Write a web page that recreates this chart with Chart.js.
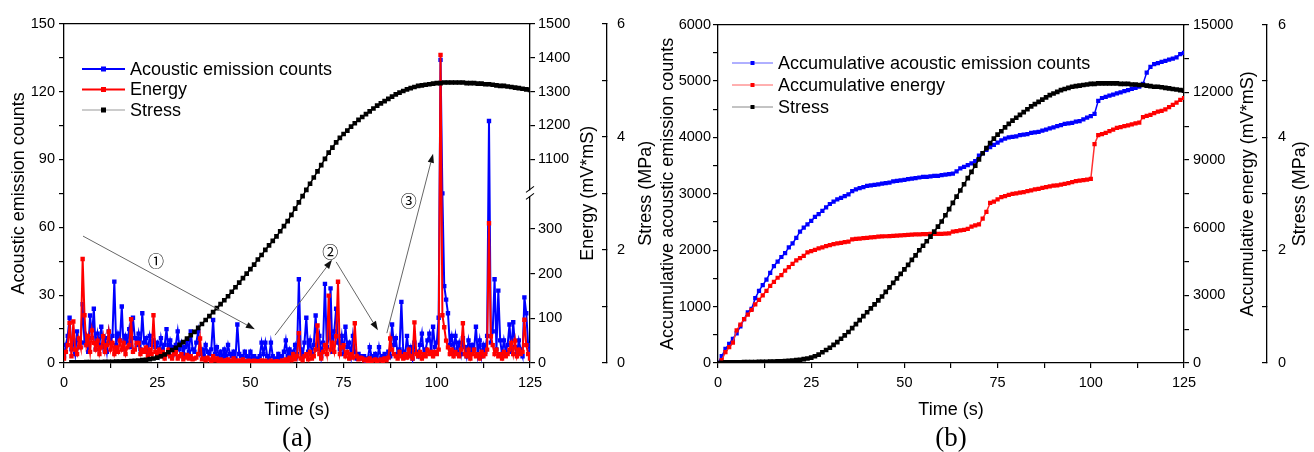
<!DOCTYPE html>
<html><head><meta charset="utf-8">
<script src="https://cdn.jsdelivr.net/npm/chart.js@4.4.1/dist/chart.umd.min.js"></script>
<style>
html,body{margin:0;padding:0;background:#fff;}
#wrap{position:relative;width:1314px;height:452px;overflow:hidden;background:#fff;}
canvas{position:absolute;top:0;}
#ca{left:0;width:657px;height:452px;}
#cb{left:657px;width:657px;height:452px;}
</style></head><body>
<div id="wrap"><canvas id="ca" width="657" height="452"></canvas><canvas id="cb" width="657" height="452"></canvas></div>
<script>
// ---------------- DATA ----------------
// Panel (a): sampled every 0.5 s from 0 to 125 s
const aeCounts = [
 3, 8, 12, 20, 6, 10, 4, 14, 7, 9,
 26, 9, 12, 5, 21, 11, 24, 6, 13, 8,
 16, 7, 11, 5, 14, 9, 12, 36, 8, 13,
 10, 25, 6, 12, 9, 15, 7, 20, 11, 8,
 13, 6, 22, 9, 11, 5, 12, 8, 10, 7,
 9, 4, 11, 6, 8, 15, 5, 10, 7, 4,
 8, 14, 6, 9, 4, 7, 10, 5, 14, 6,
 5, 9, 14, 4, 6, 3, 8, 5, 4, 6,
 19, 4, 7, 3, 5, 2, 6, 3, 8, 4,
 3, 5, 2, 17, 4, 3, 2, 5, 3, 2,
 5, 2, 3, 1, 2, 3, 9, 4, 9, 3,
 2, 9, 3, 1, 2, 4, 2, 3, 5, 10,
 3, 6, 2, 5, 8, 4, 37, 6, 3, 9,
 20, 5, 10, 4, 8, 21, 6, 12, 3, 9,
 35, 7, 11, 33, 5, 14, 24, 9, 6, 12,
 4, 16, 7, 9, 3, 12, 5, 2, 4, 3,
 2, 3, 1, 2, 7, 3, 2, 4, 1, 7,
 2, 3, 4, 2, 5, 3, 17, 8, 11, 4,
 6, 27, 5, 3, 12, 4, 7, 2, 9, 5,
 3, 8, 13, 4, 6, 10, 13, 5, 16, 7,
 9, 20, 134, 75, 34, 28, 22, 8, 12, 6,
 12, 5, 9, 4, 11, 7, 3, 10, 5, 8,
 6, 16, 4, 10, 3, 8, 5, 12, 107, 9,
 14, 37, 6, 32, 10, 4, 10, 5, 8, 17,
 5, 18, 7, 4, 10, 6, 3, 29, 22, 8,
 5
];
const aeEnergy = [
 10, 25, 40, 90, 15, 93, 30, 20, 55, 35,
 233, 107, 40, 60, 25, 73, 45, 30, 50, 20,
 35, 60, 25, 40, 70, 30, 45, 20, 35, 25,
 50, 30, 45, 20, 35, 40, 98, 25, 30, 45,
 45, 20, 30, 25, 35, 15, 30, 20, 107, 25,
 20, 30, 15, 25, 10, 20, 30, 15, 10, 20,
 25, 10, 15, 20, 8, 12, 18, 10, 15, 8,
 10, 12, 20, 55, 8, 10, 6, 12, 8, 5,
 15, 6, 10, 5, 8, 4, 6, 5, 8, 4,
 5, 10, 4, 6, 3, 5, 8, 4, 3, 5,
 4, 3, 5, 2, 4, 3, 6, 2, 5, 3,
 2, 5, 3, 2, 4, 3, 2, 6, 4, 8,
 5, 12, 6, 20, 8, 15, 67, 10, 6, 15,
 20, 8, 25, 10, 15, 30, 84, 20, 10, 25,
 40, 20, 151, 30, 45, 25, 60, 182, 20, 35,
 40, 15, 25, 10, 20, 12, 89, 15, 8, 12,
 10, 6, 8, 4, 10, 5, 6, 8, 4, 6,
 8, 5, 10, 6, 12, 55, 30, 20, 15, 10,
 25, 15, 10, 20, 12, 30, 15, 10, 91, 20,
 15, 25, 10, 20, 15, 30, 20, 25, 15, 25,
 20, 30, 1408, 107, 80, 50, 35, 20, 30, 15,
 25, 20, 15, 30, 89, 20, 15, 30, 10, 20,
 30, 15, 20, 10, 25, 15, 20, 30, 313, 60,
 40, 20, 30, 15, 20, 10, 25, 15, 20, 30,
 45, 20, 50, 15, 30, 20, 25, 97, 40, 20,
 10
];
// Stress, sampled every 1 s from 0 to 125 s
const stressMPa = [
 0.0, 0.005, 0.01, 0.01, 0.012, 0.013, 0.014, 0.015, 0.016, 0.017,
 0.018, 0.02, 0.021, 0.022, 0.024, 0.026, 0.028, 0.03, 0.033, 0.037,
 0.042, 0.05, 0.058, 0.068, 0.08, 0.095, 0.12, 0.15, 0.19, 0.23,
 0.27, 0.32, 0.37, 0.43, 0.49, 0.55, 0.62, 0.69, 0.76, 0.83,
 0.9, 0.97, 1.04, 1.11, 1.18, 1.26, 1.34, 1.42, 1.5, 1.58,
 1.66, 1.74, 1.83, 1.91, 2.0, 2.08, 2.16, 2.24, 2.33, 2.42,
 2.51, 2.62, 2.73, 2.84, 2.95, 3.06, 3.17, 3.28, 3.39, 3.5,
 3.61, 3.72, 3.81, 3.9, 3.98, 4.05, 4.11, 4.18, 4.24, 4.3,
 4.35, 4.4, 4.45, 4.5, 4.55, 4.59, 4.63, 4.67, 4.71, 4.75,
 4.78, 4.81, 4.84, 4.86, 4.88, 4.9, 4.91, 4.92, 4.93, 4.94,
 4.95, 4.95, 4.96, 4.96, 4.96, 4.96, 4.96, 4.96, 4.95, 4.95,
 4.95, 4.94, 4.94, 4.93, 4.93, 4.92, 4.91, 4.9, 4.9, 4.89,
 4.88, 4.87, 4.86, 4.85, 4.84, 4.83
];
// Panel (b): cumulative values, sampled every 1 s
const cumCounts = [
 0, 120, 250, 340, 430, 525, 650, 780, 900, 960,
 1150, 1280, 1380, 1480, 1600, 1720, 1800, 1880, 1950, 2050,
 2120, 2220, 2330, 2400, 2460, 2520, 2590, 2640, 2700, 2760,
 2820, 2860, 2900, 2930, 2960, 2990, 3050, 3080, 3100, 3120,
 3140, 3150, 3160, 3170, 3180, 3190, 3200, 3220, 3230, 3240,
 3250, 3260, 3270, 3280, 3290, 3300, 3300, 3310, 3320, 3320,
 3330, 3340, 3350, 3360, 3400, 3450, 3480, 3510, 3540, 3580,
 3680, 3720, 3780, 3830, 3870, 3910, 3950, 3980, 4000, 4010,
 4020, 4040, 4050, 4060, 4080, 4090, 4100, 4120, 4140, 4160,
 4180, 4200, 4220, 4240, 4250, 4260, 4280, 4290, 4320, 4350,
 4380, 4420, 4650, 4700, 4720, 4740, 4760, 4780, 4800, 4820,
 4840, 4860, 4880, 4900, 4950, 5150, 5250, 5300, 5320, 5340,
 5360, 5380, 5400, 5420, 5480, 5500
];
const cumEnergy = [
 0, 130, 480, 700, 900, 1450, 1700, 1950, 2150, 2350,
 2600, 2800, 3000, 3200, 3420, 3600, 3780, 3900, 4100, 4250,
 4400, 4550, 4650, 4750, 4900, 4960, 5020, 5080, 5130, 5180,
 5230, 5270, 5300, 5330, 5360, 5380, 5480, 5500, 5520, 5540,
 5550, 5570, 5580, 5600, 5610, 5620, 5630, 5640, 5650, 5660,
 5670, 5680, 5690, 5700, 5700, 5710, 5710, 5720, 5720, 5730,
 5730, 5740, 5750, 5830, 5850, 5880, 5900, 5950, 6050, 6100,
 6150, 6400, 6700, 7100, 7150, 7250, 7350, 7400, 7450, 7500,
 7520, 7550, 7580, 7620, 7650, 7700, 7720, 7760, 7800, 7830,
 7860, 7880, 7910, 7940, 7980, 8020, 8060, 8090, 8110, 8130,
 8160, 9700, 10100, 10150, 10200, 10280, 10350, 10420, 10460, 10500,
 10540, 10580, 10620, 10660, 10900, 10960, 11000, 11080, 11150, 11180,
 11250, 11350, 11450, 11550, 11670, 11750
];
const timeHalf = aeCounts.map((_, i) => i * 0.5);
const timeSec = stressMPa.map((_, i) => i);
const stressStartA = 2; // stress record in (a) starts at 2 s
const energyTicksA = [0, 100, 200, 300, 1100, 1200, 1300, 1400, 1500];
// annotation arrows in (a), data units [t1, counts1, t2, counts2]
const arrowsA = [[5.1, 56.1, 51.2, 14.9], [56.6, 12.3, 71.9, 45.6], [73.0, 44.7, 84.2, 14.5], [86.6, 13.2, 99.0, 92.5]];
const markA = [['\u2460', 24.7, 45.2], ['\u2461', 71.4, 49.1], ['\u2462', 92.5, 71.5]];

// ---------------- SETUP ----------------
const FONT = '"Liberation Sans", Arial, Helvetica, sans-serif';
Chart.defaults.font.family = FONT;
Chart.defaults.font.size = 14.5;
Chart.defaults.color = '#000';

const LinearBase = Chart.LinearScale || Chart.registry.getScale('linear');
class BrokenLinearScale extends LinearBase {
  static id = 'brokenLinear';
  buildTicks() {
    return (this.options.breakTicks || energyTicksA).map(v => ({ value: v }));
  }
  _frac(v) {
    const lo = this.options.breakLow, hi = this.options.breakHigh, mid = this.options.breakAt;
    if (v <= lo) return (v - this.min) / (lo - this.min) * mid;
    if (v >= hi) return mid + (v - hi) / (this.max - hi) * (1 - mid);
    return mid;
  }
  getPixelForValue(v) { return this.getPixelForDecimal(this._frac(v)); }
  getValueForPixel(p) {
    const lo = this.options.breakLow, hi = this.options.breakHigh, mid = this.options.breakAt;
    const f = this.getDecimalForPixel(p);
    return f <= mid ? this.min + f / mid * (lo - this.min) : hi + (f - mid) / (1 - mid) * (this.max - hi);
  }
}
Chart.register(BrokenLinearScale);

const gridOpt = (tl) => ({ drawOnChartArea: false, drawTicks: true, tickLength: tl, color: '#000', lineWidth: 1.2 });
const borderOpt = { display: true, color: '#000', width: 1.3 };
const lbl = (step) => (v) => (Math.abs(v / step - Math.round(v / step)) < 1e-6 ? String(v) : '');

function arrow(ctx, x1, y1, x2, y2) {
  const a = Math.atan2(y2 - y1, x2 - x1), L = 9, W = 3.2;
  const bx = x2 - L * Math.cos(a), by = y2 - L * Math.sin(a);
  ctx.strokeStyle = '#666'; ctx.lineWidth = 1;
  ctx.beginPath(); ctx.moveTo(x1, y1); ctx.lineTo(bx, by); ctx.stroke();
  ctx.fillStyle = '#111';
  ctx.beginPath(); ctx.moveTo(x2, y2);
  ctx.lineTo(bx + W * Math.sin(a), by - W * Math.cos(a));
  ctx.lineTo(bx - W * Math.sin(a), by + W * Math.cos(a));
  ctx.closePath(); ctx.fill();
}

const decor = {
  id: 'decor',
  afterDraw(chart, args, o) {
    const ctx = chart.ctx, ca = chart.chartArea;
    ctx.save();
    // right-side axis titles (read bottom to top)
    (o.rightTitles || []).forEach(rt => {
      const s = chart.scales[rt.scale];
      ctx.save();
      ctx.translate(s.left + rt.offset, (ca.top + ca.bottom) / 2);
      ctx.rotate(-Math.PI / 2);
      ctx.font = '18px ' + FONT; ctx.fillStyle = '#000';
      ctx.textAlign = 'center'; ctx.textBaseline = 'middle';
      ctx.fillText(rt.text, 0, 0);
      ctx.restore();
    });
    // axis break marks
    if (o.brk) {
      const s = chart.scales[o.brk];
      const by = s.getPixelForDecimal(s.options.breakAt), ax = s.left;
      ctx.fillStyle = '#fff'; ctx.fillRect(ax - 2, by - 3, 4, 6);
      ctx.strokeStyle = '#000'; ctx.lineWidth = 1.1;
      ctx.beginPath();
      ctx.moveTo(ax - 4, by - 1); ctx.lineTo(ax + 4, by - 7);
      ctx.moveTo(ax - 4, by + 6); ctx.lineTo(ax + 4, by);
      ctx.stroke();
    }
    // annotations
    if (o.arrows) {
      const xs = chart.scales.x, ys = chart.scales.y;
      o.arrows.forEach(a => arrow(ctx, xs.getPixelForValue(a[0]), ys.getPixelForValue(a[1]), xs.getPixelForValue(a[2]), ys.getPixelForValue(a[3])));
      ctx.font = '16px "Noto Sans CJK SC", "DejaVu Sans", sans-serif';
      ctx.fillStyle = '#000'; ctx.textAlign = 'center'; ctx.textBaseline = 'middle';
      (o.marks || []).forEach(m => ctx.fillText(m[0], xs.getPixelForValue(m[1]), ys.getPixelForValue(m[2])));
    }
    // legend
    if (o.legend) {
      const L = o.legend;
      L.items.forEach((it, i) => {
        const ds = chart.data.datasets[it.ds];
        const y = L.y + i * L.dy;
        ctx.strokeStyle = it.line; ctx.lineWidth = it.lw;
        ctx.beginPath(); ctx.moveTo(L.x, y); ctx.lineTo(L.x + L.len, y); ctx.stroke();
        ctx.fillStyle = it.sq;
        ctx.fillRect(L.x + L.len / 2 - L.sqs / 2, y - L.sqs / 2, L.sqs, L.sqs);
        ctx.font = '18px ' + FONT; ctx.fillStyle = '#000';
        ctx.textAlign = 'left'; ctx.textBaseline = 'middle';
        ctx.fillText(ds.label, L.x + L.len + L.gap, y + 1);
      });
    }
    ctx.restore();
  }
};

const xAxis = {
  type: 'linear', position: 'bottom', min: 0, max: 125,
  ticks: { stepSize: 12.5, autoSkip: false, maxRotation: 0, padding: 6, callback: lbl(25) },
  grid: gridOpt(5), border: borderOpt,
  title: { display: true, text: 'Time (s)', font: { size: 18 }, padding: { top: 0, bottom: 4 } },
  afterFit: s => { s.height = 62; }
};
const topAxis = {
  type: 'linear', position: 'top', min: 0, max: 125, display: true,
  ticks: { display: false }, grid: { display: false, drawTicks: false }, border: borderOpt,
  afterFit: s => { s.height = 0; }
};
const panelTitle = (t) => ({ display: true, text: t, position: 'bottom', fullSize: false,
  font: { family: '"Liberation Serif", "Times New Roman", serif', size: 27, weight: 'normal', lineHeight: 1.0 },
  padding: { top: 0, bottom: 0 }, color: '#000' });

// ---------------- CHART (a) ----------------
new Chart(document.getElementById('ca'), {
  type: 'line',
  data: {
    datasets: [
      { label: 'Acoustic emission counts', data: timeHalf.map((t, i) => ({ x: t, y: aeCounts[i] })), yAxisID: 'y',
        borderColor: '#0000ff', backgroundColor: '#0000ff', pointBackgroundColor: '#0000ff', borderWidth: 2,
        pointStyle: 'rect', pointRadius: 3.1, pointBorderWidth: 0, order: 3 },
      { label: 'Energy', data: timeHalf.map((t, i) => ({ x: t, y: aeEnergy[i] })), yAxisID: 'ye',
        borderColor: '#ff0000', backgroundColor: '#ff0000', pointBackgroundColor: '#ff0000', borderWidth: 2,
        pointStyle: 'rect', pointRadius: 3.1, pointBorderWidth: 0, order: 2 },
      { label: 'Stress', data: timeSec.slice(stressStartA).map(t => ({ x: t, y: stressMPa[t] })), yAxisID: 'ys',
        borderColor: '#000', backgroundColor: '#000', pointBackgroundColor: '#000', borderWidth: 1.5,
        pointStyle: 'rect', pointRadius: 3.3, pointBorderWidth: 0, order: 1 }
    ]
  },
  options: {
    responsive: false, animation: false, events: [],
    layout: { padding: { top: 21, left: 0, right: 0, bottom: 0 }, autoPadding: false },
    elements: { line: { tension: 0 } },
    scales: {
      x: xAxis,
      xt: topAxis,
      y: { type: 'linear', position: 'left', min: 0, max: 150,
        ticks: { stepSize: 15, autoSkip: false, padding: 4, callback: lbl(30) },
        grid: gridOpt(5), border: borderOpt,
        title: { display: true, text: 'Acoustic emission counts', font: { size: 18 }, padding: { top: 8, bottom: 0 } },
        afterFit: s => { s.width = 64; } },
      ye: { type: 'brokenLinear', position: 'right', min: 0, max: 1500, weight: 0,
        breakLow: 380, breakHigh: 1000, breakAt: 0.5, breakTicks: energyTicksA,
        ticks: { autoSkip: false, padding: 3, callback: v => String(v) },
        grid: gridOpt(5), border: borderOpt,
        afterFit: s => { s.width = 77; } },
      ys: { type: 'linear', position: 'right', min: 0, max: 6, weight: 1,
        ticks: { stepSize: 1, autoSkip: false, padding: 15, callback: lbl(2) },
        grid: gridOpt(-5), border: borderOpt,
        afterFit: s => { s.width = 50; } }
    },
    plugins: {
      legend: { display: false }, tooltip: { enabled: false },
      title: panelTitle('(a)'),
      decor: {
        rightTitles: [{ scale: 'ye', text: 'Energy (mV*mS)', offset: 58 }, { scale: 'ys', text: 'Stress (MPa)', offset: 39 }],
        brk: 'ye',
        arrows: arrowsA, marks: markA,
        legend: { x: 82, y: 69, dy: 20.5, len: 43, gap: 5, sqs: 5,
          items: [{ ds: 0, line: '#0000ff', lw: 2, sq: '#0000ff' }, { ds: 1, line: '#ff0000', lw: 2, sq: '#ff0000' }, { ds: 2, line: '#999', lw: 1, sq: '#000' }] }
      }
    }
  },
  plugins: [decor]
});

// ---------------- CHART (b) ----------------
new Chart(document.getElementById('cb'), {
  type: 'line',
  data: {
    datasets: [
      { label: 'Accumulative acoustic emission counts', data: timeSec.map(t => ({ x: t, y: cumCounts[t] })), yAxisID: 'y',
        borderColor: '#0000ff', backgroundColor: '#0000ff', pointBackgroundColor: '#0000ff', borderWidth: 1.5,
        pointStyle: 'rect', pointRadius: 3.0, pointBorderWidth: 0, order: 3 },
      { label: 'Accumulative energy', data: timeSec.map(t => ({ x: t, y: cumEnergy[t] })), yAxisID: 'ye',
        borderColor: '#ff3030', backgroundColor: '#ff0000', pointBackgroundColor: '#ff0000', borderWidth: 1.5,
        pointStyle: 'rect', pointRadius: 3.0, pointBorderWidth: 0, order: 2 },
      { label: 'Stress', data: timeSec.map(t => ({ x: t, y: stressMPa[t] })), yAxisID: 'ys',
        borderColor: '#000', backgroundColor: '#000', pointBackgroundColor: '#000', borderWidth: 1.5,
        pointStyle: 'rect', pointRadius: 3.3, pointBorderWidth: 0, order: 1 }
    ]
  },
  options: {
    responsive: false, animation: false, events: [],
    layout: { padding: { top: 21, left: 0, right: 0, bottom: 0 }, autoPadding: false },
    elements: { line: { tension: 0 } },
    scales: {
      x: xAxis,
      xt: topAxis,
      y: { type: 'linear', position: 'left', min: 0, max: 6000,
        ticks: { stepSize: 500, autoSkip: false, padding: 2, callback: lbl(1000) },
        grid: gridOpt(5), border: borderOpt,
        title: { display: true, text: 'Accumulative acoustic emission counts', font: { size: 18 }, padding: { top: 0, bottom: 0 } },
        afterFit: s => { s.width = 61; } },
      ye: { type: 'linear', position: 'right', min: 0, max: 15000, weight: 0,
        ticks: { stepSize: 1500, autoSkip: false, padding: 4, callback: lbl(3000) },
        grid: gridOpt(5), border: borderOpt,
        afterFit: s => { s.width = 83; } },
      ys: { type: 'linear', position: 'right', min: 0, max: 6, weight: 1,
        ticks: { stepSize: 1, autoSkip: false, padding: 16, callback: lbl(2) },
        grid: gridOpt(-5), border: borderOpt,
        afterFit: s => { s.width = 47; } }
    },
    plugins: {
      legend: { display: false }, tooltip: { enabled: false },
      title: panelTitle('(b)'),
      decor: {
        rightTitles: [{ scale: 'ye', text: 'Accumulative energy (mV*mS)', offset: 64 }, { scale: 'ys', text: 'Stress (MPa)', offset: 33 }],
        legend: { x: 75, y: 63, dy: 22, len: 41, gap: 5, sqs: 4,
          items: [{ ds: 0, line: '#6060ff', lw: 1, sq: '#0000ff' }, { ds: 1, line: '#ff6060', lw: 1, sq: '#ff0000' }, { ds: 2, line: '#888', lw: 1, sq: '#000' }] }
      }
    }
  },
  plugins: [decor]
});
</script>
</body></html>
